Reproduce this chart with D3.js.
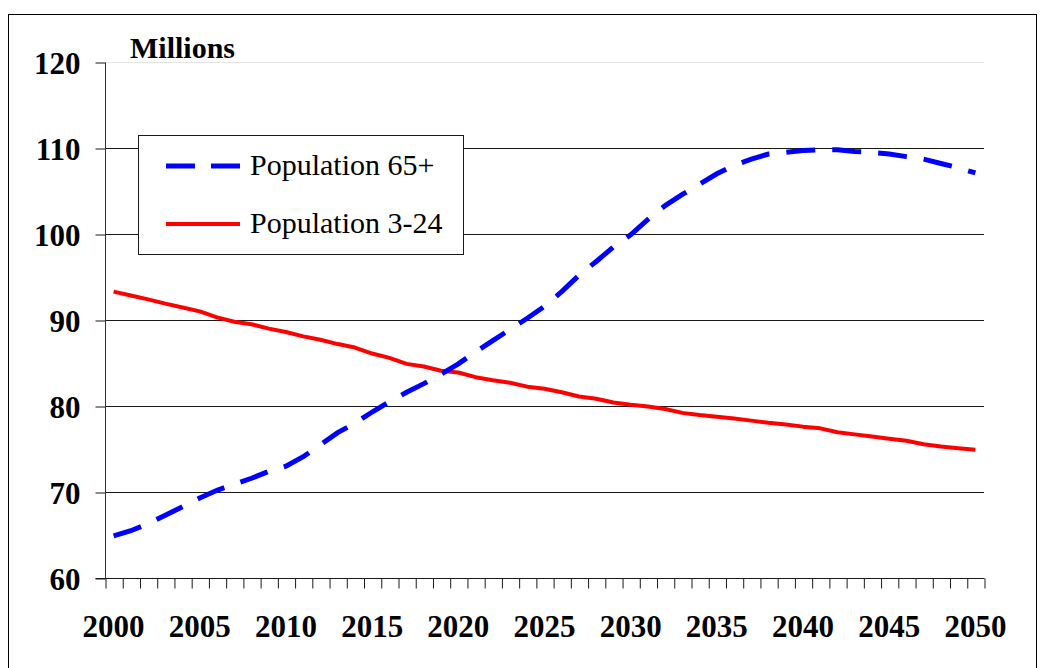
<!DOCTYPE html>
<html>
<head>
<meta charset="utf-8">
<script src="https://cdn.jsdelivr.net/npm/d3@7/dist/d3.min.js"></script>
<style>
  html, body { margin: 0; padding: 0; background: #fff; }
  svg { display: block; }
  text { font-family: "Liberation Serif", "Times New Roman", serif; fill: #000; }
</style>
</head>
<body>
<svg id="chart" width="1042" height="668"></svg>
<script>
// Years 2000-2050
const years = d3.range(2000, 2051);

// Population aged 65 and over, millions
const pop65 = [
  64.9, 65.5, 66.3, 67.3, 68.3, 69.3, 70.2, 70.9, 71.6, 72.4,
  73.0, 74.1, 75.5, 76.9, 78.0, 79.3, 80.5, 81.6, 82.6, 83.7,
  84.9, 86.3, 87.6, 88.9, 90.2, 91.6, 93.3, 95.2, 96.8, 98.5,
  99.9, 101.7, 103.3, 104.6, 105.8, 107.0, 108.0, 108.7, 109.3, 109.5,
  109.7, 109.8, 109.8, 109.6, 109.5, 109.3, 109.0, 108.7, 108.2, 107.7,
  107.1
];

// Population aged 3 to 24, millions
const pop3to24 = [
  93.3, 92.85, 92.4, 91.9, 91.45, 91.0, 90.3, 89.8, 89.5, 89.0,
  88.6, 88.1, 87.7, 87.2, 86.8, 86.1, 85.6, 84.9, 84.6, 84.1,
  83.9, 83.35, 83.0, 82.7, 82.25, 82.0, 81.6, 81.1, 80.85, 80.4,
  80.15, 79.95, 79.65, 79.2, 78.95, 78.75, 78.55, 78.3, 78.05, 77.85,
  77.6, 77.4, 76.95, 76.7, 76.45, 76.2, 75.95, 75.55, 75.3, 75.1,
  74.9
];

const yTicks = [60, 70, 80, 90, 100, 110, 120];
const xLabelYears = years.filter(d => d % 5 === 0);
const seriesNames = ["Population 65+", "Population 3-24"];
const unitLabel = "Millions";

const svg = d3.select("#chart");

// Outer frame
svg.append("rect")
  .attr("x", 8.5).attr("y", 14.5)
  .attr("width", 1028).attr("height", 700)
  .attr("fill", "#fff").attr("stroke", "#000").attr("stroke-width", 1);

const plotLeft = 105, plotRight = 984, plotTop = 62, plotBottom = 578;

// Category scale: each year occupies one band; ticks sit on band edges
const x = d3.scaleBand().domain(years).range([plotLeft, plotRight]).paddingInner(0).paddingOuter(0);
const xEdge = d3.scaleLinear().domain([0, years.length]).range([plotLeft, plotRight]);
const y = d3.scaleLinear().domain([60, 120]).range([plotBottom, plotTop]);
const cx = d => x(d) + x.bandwidth() / 2;

// Horizontal gridlines
svg.append("g")
  .selectAll("line")
  .data(yTicks.filter(v => v > 60))
  .join("line")
  .attr("x1", plotLeft).attr("x2", plotRight)
  .attr("y1", d => Math.round(y(d)) + 0.5).attr("y2", d => Math.round(y(d)) + 0.5)
  .attr("stroke", d => d === 120 ? "#e4e4e4" : "#1a1a1a")
  .attr("stroke-width", 1);

// Y axis
const yAxis = svg.append("g")
  .attr("transform", `translate(${plotLeft + 0.5},0.5)`)
  .call(d3.axisLeft(y).tickValues(yTicks).tickSize(10).tickPadding(15).tickFormat(d3.format("d")));
yAxis.select(".domain").attr("stroke", "#333").attr("d", `M0,${plotTop}V${plotBottom}`);
yAxis.selectAll(".tick line").attr("stroke", "#1a1a1a");
yAxis.selectAll(".tick text")
  .attr("font-family", "Liberation Serif").attr("font-weight", "bold").attr("font-size", 31)
  .attr("dy", "0.36em");

// X axis: tick marks on category edges
const xAxisTicks = svg.append("g")
  .attr("transform", `translate(0.5,${plotBottom + 0.5})`)
  .call(d3.axisBottom(xEdge).tickValues(d3.range(0, years.length + 1)).tickSize(10).tickFormat(""));
xAxisTicks.select(".domain").attr("stroke", "#1a1a1a").attr("d", `M${plotLeft - 10},0H${plotRight}`);
xAxisTicks.selectAll(".tick line").attr("stroke", "#1a1a1a");

// X axis labels at category centres
const xAxisLabels = svg.append("g")
  .attr("transform", `translate(0,${plotBottom})`)
  .call(d3.axisBottom(x).tickValues(xLabelYears).tickSize(0).tickPadding(37));
xAxisLabels.select(".domain").remove();
xAxisLabels.selectAll(".tick text")
  .attr("font-family", "Liberation Serif").attr("font-weight", "bold").attr("font-size", 31);

// Unit label
svg.append("text")
  .attr("x", 130).attr("y", 58)
  .attr("font-weight", "bold").attr("font-size", 30)
  .text(unitLabel);

// Series lines
const line = d3.line().x((d, i) => cx(years[i])).y(d => y(d));

svg.append("path")
  .datum(pop3to24)
  .attr("d", line)
  .attr("fill", "none").attr("stroke", "#ff0000").attr("stroke-width", 4)
  .attr("stroke-linejoin", "round");

svg.append("path")
  .datum(pop65)
  .attr("d", line)
  .attr("fill", "none").attr("stroke", "#0000ff").attr("stroke-width", 5)
  .attr("stroke-dasharray", "29,17");

// Legend
const legend = svg.append("g");
legend.append("rect")
  .attr("x", 138.5).attr("y", 135.5).attr("width", 325).attr("height", 119)
  .attr("fill", "#fff").attr("stroke", "#1a1a1a").attr("stroke-width", 1);

const legendItems = [
  { name: seriesNames[0], color: "#0000ff", width: 5, dash: "29,16", ly: 166, ty: 175 },
  { name: seriesNames[1], color: "#ff0000", width: 4, dash: null, ly: 224, ty: 233 }
];
legendItems.forEach(it => {
  legend.append("line")
    .attr("x1", 166).attr("x2", 240).attr("y1", it.ly).attr("y2", it.ly)
    .attr("stroke", it.color).attr("stroke-width", it.width)
    .attr("stroke-dasharray", it.dash);
  legend.append("text")
    .attr("x", 250).attr("y", it.ty)
    .attr("font-size", 30)
    .text(it.name);
});
</script>
</body>
</html>
